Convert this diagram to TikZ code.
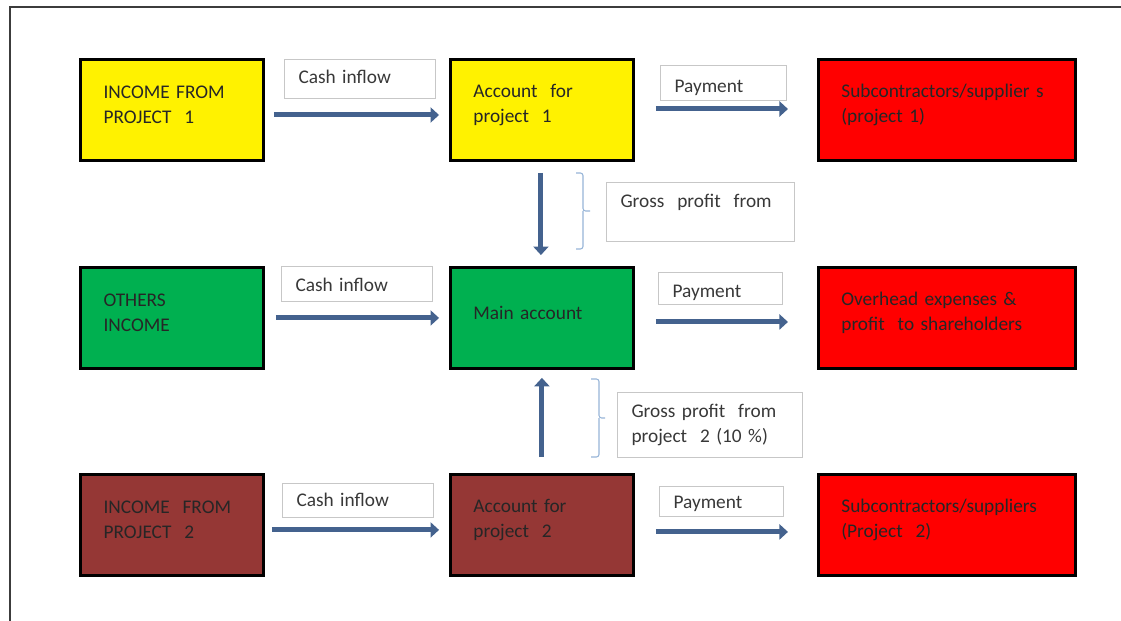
\documentclass[tikz,border=0pt]{standalone}
\usepackage{fontspec}
\setmainfont{Carlito}
\usetikzlibrary{shapes,arrows.meta,positioning}
\definecolor{flowblue}{RGB}{68,98,142}
\definecolor{bracecol}{RGB}{150,180,215}
\definecolor{projgreen}{RGB}{0,176,80}
\definecolor{projbrown}{RGB}{149,55,53}
\definecolor{framegray}{RGB}{60,60,60}
\tikzstyle{acct} = [draw, line width=1.6pt, align=left, inner xsep=0.46cm,
    text width=2.74cm, minimum height=2.02cm, text=black!85,
    execute at end node={\endgraf\vspace*{0.2cm}}]
\tikzstyle{lbl} = [draw=black!22, line width=0.6pt, align=left, anchor=north west,
    inner xsep=0.28cm, inner ysep=0pt, text=black!78]
\tikzstyle{flow} = [-{Triangle[length=0.17cm,width=0.3cm]}, flowblue, line width=0.1cm]
\tikzstyle{brace} = [bracecol, line width=0.6pt, rounded corners=1.5pt]

\begin{document}
\begin{tikzpicture}[x=0.02cm, y=-0.02cm, node distance=7.4cm,
    font=\fontsize{11pt}{14.2pt}\selectfont]
  \useasboundingbox (0,0) rectangle (1121,621);
  \draw [framegray, line width=1.3pt] (10,621) -- (10,7) -- (1121,7);

  % project 1 row
  \node [acct, fill=yellow] (inc1) at (172,110) {INCOME FROM\\PROJECT~ 1};
  \node [acct, fill=yellow, right of=inc1] (acc1) {Account~ for\\project~ 1};
  \node [acct, fill=red, text width=4.22cm, right of=acc1, node distance=8.1cm] (sub1)
  {Subcontractors/supplier s\\(project 1)};
  % main row
  \node [acct, fill=projgreen, below of=inc1, node distance=4.16cm] (oth) {OTHERS\\INCOME};
  \node [acct, fill=projgreen, below of=acc1, node distance=4.16cm] (main) {Main account};
  \node [acct, fill=red, text width=4.22cm, below of=sub1, node distance=4.16cm] (ovh)
  {Overhead expenses \&\\profit~ to shareholders};
  % project 2 row
  \node [acct, fill=projbrown, below of=oth, node distance=4.14cm] (inc2) {INCOME~ FROM\\PROJECT~ 2};
  \node [acct, fill=projbrown, below of=main, node distance=4.14cm] (acc2) {Account for\\project~ 2};
  \node [acct, fill=red, text width=4.22cm, below of=ovh, node distance=4.14cm] (sub2)
  {Subcontractors/suppliers\\(Project~ 2)};

  % labels
  \node [lbl, text width=2.46cm, text height=0.48cm, text depth=0.3cm] (cin1) at (284,59) {Cash inflow};
  \node [lbl, text width=2.46cm, text height=0.5cm, text depth=0.2cm] (cin2) at (281,266) {Cash inflow};
  \node [lbl, text width=2.46cm, text height=0.46cm, text depth=0.22cm] (cin3) at (282,483) {Cash inflow};
  \node [lbl, text width=1.96cm, text height=0.54cm, text depth=0.16cm] (pay1) at (660,65) {Payment};
  \node [lbl, text width=1.92cm, text height=0.5cm, text depth=0.14cm] (pay2) at (658,272) {Payment};
  \node [lbl, text width=1.92cm, text height=0.44cm, text depth=0.16cm] (pay3) at (659,486) {Payment};
  \node [lbl, text width=3.2cm, text height=0.5cm, text depth=0.68cm] (gp1) at (606,182) {Gross~ profit~ from};
  \node [lbl, text width=3.14cm, minimum height=1.3cm] (gp2) at (617,392)
  {Gross profit~ from\\project~ 2 (10 \%)};

  % flows
  \draw [flow] ([shift={(9,5)}]inc1.east) -- ([shift={(-10,5)}]acc1.west);
  \draw [flow] ([shift={(21,-1)}]acc1.east) -- ([shift={(-29,-1)}]sub1.west);
  \draw [flow] ([shift={(11,0)}]oth.east) -- ([shift={(-10,0)}]main.west);
  \draw [flow] ([shift={(21,4)}]main.east) -- ([shift={(-29,4)}]ovh.west);
  \draw [flow] ([shift={(7,5)}]inc2.east) -- ([shift={(-10,5)}]acc2.west);
  \draw [flow] ([shift={(21,7)}]acc2.east) -- ([shift={(-29,7)}]sub2.west);
  \draw [flow] ([shift={(-1,11)}]acc1.south) -- ([shift={(-1,-11)}]main.north);
  \draw [flow] ([shift={(0,-16)}]acc2.north) -- ([shift={(0,8)}]main.south);

  % braces
  \draw [brace] (576,173) -- (583,173) -- (583,211) -- (590,211)
    (583,211) -- (583,249) -- (576,249);
  \draw [brace] (591,379) -- (599,379) -- (599,418) -- (605,418)
    (599,418) -- (599,457) -- (591,457);
\end{tikzpicture}
\end{document}
